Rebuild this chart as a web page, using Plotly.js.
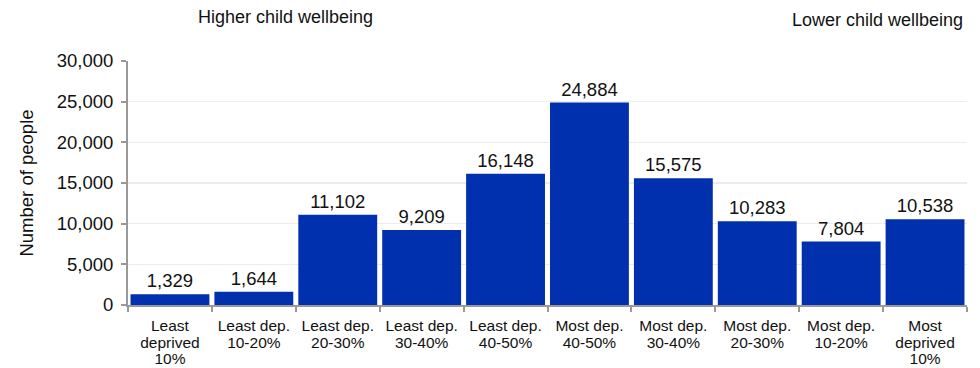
<!DOCTYPE html>
<html>
<head>
<meta charset="utf-8">
<script src="https://cdn.plot.ly/plotly-3.0.1.min.js"></script>
<style>html,body{margin:0;padding:0;background:#fff;}#chart{width:980px;height:368px;}</style>
</head>
<body>
<div id="chart"></div>
<script>
const categories = ["Least<br>deprived<br>10%", "Least dep.<br>10-20%", "Least dep.<br>20-30%", "Least dep.<br>30-40%", "Least dep.<br>40-50%", "Most dep.<br>40-50%", "Most dep.<br>30-40%", "Most dep.<br>20-30%", "Most dep.<br>10-20%", "Most<br>deprived<br>10%"];
const values = [1329, 1644, 11102, 9209, 16148, 24884, 15575, 10283, 7804, 10538];
const yTickVals = [0, 5000, 10000, 15000, 20000, 25000, 30000];
const yTickText = ["0", "5,000", "10,000", "15,000", "20,000", "25,000", "30,000"];

const font = "Liberation Sans, Arial, sans-serif";
const trace = {
  type: "bar",
  x: categories,
  y: values,
  marker: {color: "#0030AD"},
  text: values.map(v => v.toLocaleString("en-US")),
  textposition: "outside",
  textfont: {family: font, size: 18.5, color: "#111"},
  cliponaxis: false,
  hoverinfo: "skip"
};
const layout = {
  width: 980, height: 368,
  margin: {l: 128, r: 13, t: 61, b: 63},
  paper_bgcolor: "#fff", plot_bgcolor: "#fff",
  font: {family: font, color: "#111"},
  bargap: 0.06,
  showlegend: false,
  xaxis: {
    type: "category",
    showgrid: false,
    showline: true, linecolor: "#999", linewidth: 2,
    ticks: "outside", tickson: "boundaries", ticklen: 5, tickcolor: "#999", tickwidth: 2,
    ticklabelstandoff: 5,
    tickfont: {family: font, size: 15.5, color: "#111"},
    automargin: false
  },
  yaxis: {
    range: [0, 30000],
    tickvals: yTickVals, ticktext: yTickText,
    showgrid: true, gridcolor: "#ececec", gridwidth: 1.5,
    showline: true, linecolor: "#999", linewidth: 2,
    ticks: "outside", ticklen: 5, tickcolor: "#999", tickwidth: 2,
    ticklabelstandoff: 4,
    tickfont: {family: font, size: 18.5, color: "#111"},
    zeroline: false,
    title: {text: "Number of people", font: {family: font, size: 18.5, color: "#111"}, standoff: 18},
    automargin: false
  },
  annotations: [
    {text: "Higher child wellbeing", xref: "paper", yref: "paper", x: 0.188, y: 1, yshift: 44, xanchor: "center", yanchor: "middle", showarrow: false, font: {family: font, size: 18, color: "#111"}},
    {text: "Lower child wellbeing", xref: "paper", yref: "paper", x: 0.998, y: 1, yshift: 41, xanchor: "right", yanchor: "middle", showarrow: false, font: {family: font, size: 18, color: "#111"}}
  ]
};
Plotly.newPlot("chart", [trace], layout, {displayModeBar: false, staticPlot: true}).then(gd => {
  gd.querySelectorAll(".xtick text tspan.line").forEach(t => {
    const dy = t.getAttribute("dy");
    if (dy && dy.endsWith("em")) t.setAttribute("dy", (parseFloat(dy) * 0.84) + "em");
  });
});
</script>
</body>
</html>
